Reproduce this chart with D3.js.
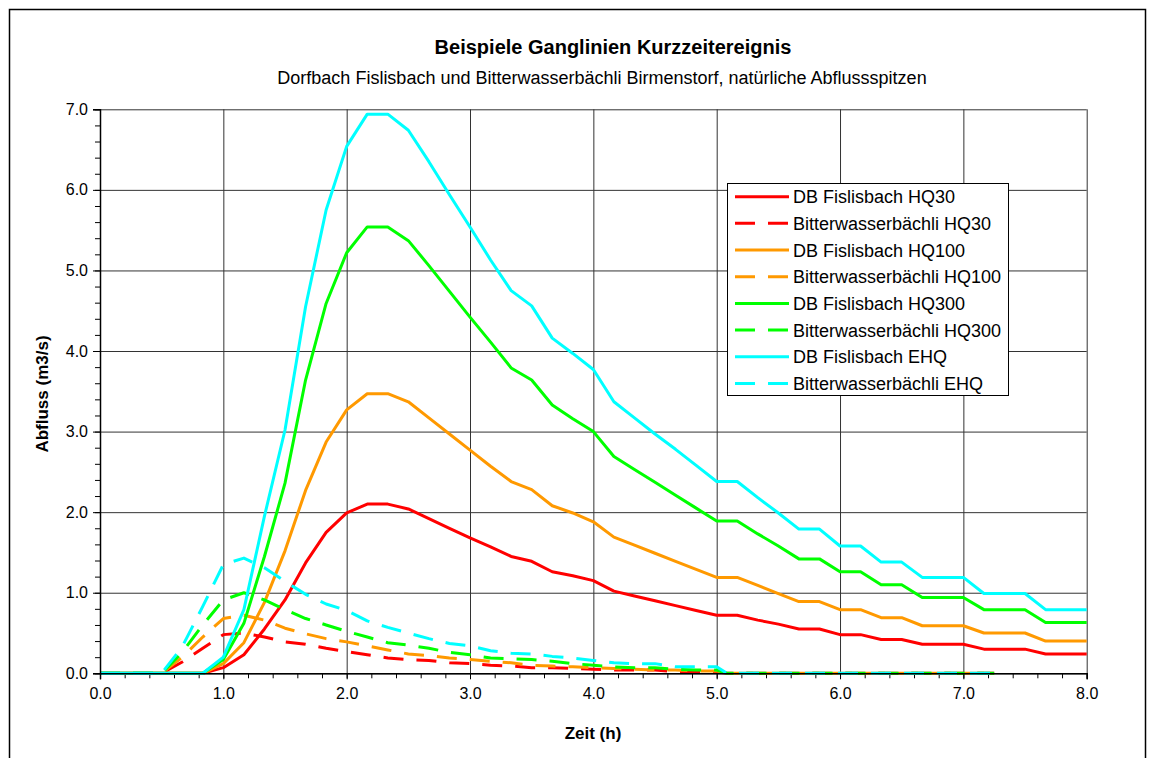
<!DOCTYPE html>
<html>
<head>
<meta charset="utf-8">
<script src="https://cdn.jsdelivr.net/npm/d3@7"></script>
<style>
body{margin:0;background:#fff;}
svg{display:block;font-family:"Liberation Sans",Arial,sans-serif;}
</style>
</head>
<body>
<svg width="1154" height="758"></svg>
<script>
// time in minutes, DB Fislisbach (10 min steps, 0..8 h)
var minutesDB = [0,10,20,30,40,50,60,70,80,90,100,110,120,130,140,150,160,170,180,190,200,
  210,220,230,240,250,260,270,280,290,300,310,320,330,340,350,360,370,380,390,400,
  410,420,430,440,450,460,470,480];

var dbHQ30 = [0,0,0,0,0,0,0.07,0.23,0.55,0.91,1.37,1.75,1.99,2.10,2.10,2.04,1.92,1.80,1.68,1.57,1.45,
  1.39,1.26,1.21,1.15,1.02,0.96,0.90,0.84,0.78,0.72,0.72,0.66,0.61,0.55,0.55,0.48,0.48,0.42,0.42,0.36,
  0.36,0.36,0.30,0.30,0.30,0.24,0.24,0.24];
var dbHQ100 = [0,0,0,0,0,0,0.12,0.38,0.88,1.52,2.27,2.87,3.27,3.47,3.47,3.37,3.17,2.97,2.77,2.57,2.38,
  2.28,2.08,1.99,1.88,1.69,1.59,1.49,1.39,1.29,1.19,1.19,1.09,0.99,0.89,0.89,0.79,0.79,0.69,0.69,0.59,
  0.59,0.59,0.50,0.50,0.50,0.40,0.40,0.40];
var dbHQ300 = [0,0,0,0,0,0,0.17,0.62,1.45,2.36,3.64,4.59,5.22,5.54,5.54,5.37,5.06,4.74,4.42,4.11,3.79,
  3.64,3.33,3.16,3.00,2.69,2.53,2.37,2.21,2.05,1.89,1.89,1.73,1.58,1.42,1.42,1.26,1.26,1.10,1.10,0.94,
  0.94,0.94,0.79,0.79,0.79,0.63,0.63,0.63];
var dbEHQ = [0,0,0,0,0,0,0.20,0.79,1.95,3.02,4.55,5.75,6.54,6.94,6.94,6.74,6.35,5.94,5.54,5.13,4.75,
  4.56,4.16,3.97,3.77,3.37,3.17,2.97,2.78,2.58,2.38,2.38,2.18,1.99,1.79,1.79,1.58,1.58,1.38,1.38,1.19,
  1.19,1.19,0.99,0.99,0.99,0.79,0.79,0.79];

// Bitterwasserbaechli, ends at zero after 5 h
var minutesBW = [0,10,20,30,40,50,60,70,80,90,100,110,120,130,140,150,160,170,180,190,200,
  210,220,230,240,250,260,270,280,290,300,305,435];

var bwHQ30 = [0,0,0,0,0.14,0.31,0.48,0.50,0.45,0.39,0.36,0.31,0.27,0.23,0.19,0.17,0.16,0.13,0.12,0.10,0.09,
  0.07,0.07,0.06,0.05,0.04,0.04,0.04,0.02,0.02,0.02,0,0];
var bwHQ100 = [0,0,0,0,0.20,0.45,0.68,0.72,0.66,0.56,0.49,0.43,0.39,0.34,0.29,0.24,0.22,0.19,0.17,0.15,0.13,
  0.10,0.09,0.08,0.07,0.06,0.05,0.04,0.04,0.03,0.03,0,0];
var bwHQ300 = [0,0,0,0,0.26,0.60,0.91,1.00,0.91,0.79,0.68,0.60,0.52,0.45,0.38,0.35,0.31,0.26,0.23,0.19,0.18,
  0.17,0.15,0.12,0.10,0.08,0.07,0.07,0.05,0.04,0.04,0,0];
var bwEHQ = [0,0,0,0,0.33,0.83,1.35,1.43,1.31,1.14,0.98,0.86,0.78,0.65,0.57,0.50,0.43,0.37,0.34,0.28,0.25,
  0.24,0.21,0.19,0.16,0.13,0.12,0.12,0.08,0.08,0.08,0,0];

var seriesNames = ["DB Fislisbach HQ30","Bitterwasserbächli HQ30","DB Fislisbach HQ100","Bitterwasserbächli HQ100",
  "DB Fislisbach HQ300","Bitterwasserbächli HQ300","DB Fislisbach EHQ","Bitterwasserbächli EHQ"];
var seriesColors = ["#ff0000","#ff0000","#ff9900","#ff9900","#00ff00","#00ff00","#00ffff","#00ffff"];

var xTicks = [0,1,2,3,4,5,6,7,8];
var yTicks = [0,1,2,3,4,5,6,7];

var series = [
  {t: minutesDB, v: dbHQ30, dash: false},
  {t: minutesBW, v: bwHQ30, dash: true},
  {t: minutesDB, v: dbHQ100, dash: false},
  {t: minutesBW, v: bwHQ100, dash: true},
  {t: minutesDB, v: dbHQ300, dash: false},
  {t: minutesBW, v: bwHQ300, dash: true},
  {t: minutesDB, v: dbEHQ, dash: false},
  {t: minutesBW, v: bwEHQ, dash: true}
];
series.forEach(function(s,i){ s.name = seriesNames[i]; s.color = seriesColors[i]; });

var plotLeft = 100, plotRight = 1086.7, plotTop = 109.3, plotBottom = 673.3;

var svg = d3.select("svg");

// outer frame
svg.append("rect")
  .attr("x", 9.5).attr("y", 9.5)
  .attr("width", 1136).attr("height", 800)
  .attr("fill", "none").attr("stroke", "#000").attr("stroke-width", 1.5);

var x = d3.scaleLinear().domain([0,8]).range([plotLeft,plotRight]);
var y = d3.scaleLinear().domain([0,7]).range([plotBottom,plotTop]);

// grid
svg.append("g")
  .attr("transform", "translate(0," + plotBottom + ")")
  .call(d3.axisBottom(x).tickValues(xTicks).tickSize(-(plotBottom-plotTop)).tickFormat(""))
  .call(function(g){ g.select(".domain").remove(); })
  .selectAll("line").attr("stroke", "#333");
svg.append("g")
  .attr("transform", "translate(" + plotLeft + ",0)")
  .call(d3.axisLeft(y).tickValues(yTicks).tickSize(-(plotRight-plotLeft)).tickFormat(""))
  .call(function(g){ g.select(".domain").remove(); })
  .selectAll("line").attr("stroke", "#333");

// minor ticks
svg.append("g")
  .attr("transform", "translate(0," + plotBottom + ")")
  .call(d3.axisBottom(x).tickValues(d3.range(0, 8.01, 0.2)).tickSize(5).tickFormat(""))
  .call(function(g){ g.select(".domain").remove(); })
  .selectAll("line").attr("stroke", "#000");
svg.append("g")
  .attr("transform", "translate(" + plotLeft + ",0)")
  .call(d3.axisLeft(y).tickValues(d3.range(0, 7.01, 0.2)).tickSize(5).tickFormat(""))
  .call(function(g){ g.select(".domain").remove(); })
  .selectAll("line").attr("stroke", "#000");

// series lines
var line = d3.line()
  .x(function(d){ return x(d[0]/60); })
  .y(function(d){ return y(d[1]); });

svg.append("g").selectAll("path")
  .data(series)
  .enter()
  .append("path")
  .attr("d", function(s){ return line(s.t.map(function(m,i){ return [m, s.v[i]]; })); })
  .attr("fill", "none")
  .attr("stroke", function(s){ return s.color; })
  .attr("stroke-width", 3)
  .attr("stroke-linejoin", "round")
  .attr("stroke-dasharray", function(s){ return s.dash ? "20,13" : null; });

// axes with labels
var xAxis = svg.append("g")
  .attr("transform", "translate(0," + plotBottom + ")")
  .call(d3.axisBottom(x).tickValues(xTicks).tickSize(6).tickPadding(8).tickFormat(d3.format(".1f")));
var yAxis = svg.append("g")
  .attr("transform", "translate(" + plotLeft + ",0)")
  .call(d3.axisLeft(y).tickValues(yTicks).tickSize(7).tickPadding(5).tickFormat(d3.format(".1f")));
[xAxis, yAxis].forEach(function(a){
  a.selectAll("text").attr("font-size", 16).attr("fill", "#000").attr("font-family", "Liberation Sans, Arial, sans-serif");
  a.selectAll("line").attr("stroke", "#000");
  a.select(".domain").attr("stroke", "#000").attr("stroke-width", 1.5);
});

// titles
svg.append("text")
  .attr("x", 613).attr("y", 54)
  .attr("text-anchor", "middle")
  .attr("font-size", 20).attr("font-weight", "bold")
  .text("Beispiele Ganglinien Kurzzeitereignis");
svg.append("text")
  .attr("x", 602).attr("y", 84)
  .attr("text-anchor", "middle")
  .attr("font-size", 18)
  .text("Dorfbach Fislisbach und Bitterwasserbächli Birmenstorf, natürliche Abflussspitzen");
svg.append("text")
  .attr("x", 593).attr("y", 739)
  .attr("text-anchor", "middle")
  .attr("font-size", 17).attr("font-weight", "bold")
  .text("Zeit (h)");
svg.append("text")
  .attr("transform", "translate(48,394) rotate(-90)")
  .attr("text-anchor", "middle")
  .attr("font-size", 17).attr("font-weight", "bold")
  .text("Abfluss (m3/s)");

// legend
var legend = svg.append("g");
legend.append("rect")
  .attr("x", 727.5).attr("y", 183.5)
  .attr("width", 281).attr("height", 212)
  .attr("fill", "#fff").attr("stroke", "#000").attr("stroke-width", 1);

var items = legend.selectAll("g.item")
  .data(series)
  .enter()
  .append("g")
  .attr("class", "item")
  .attr("transform", function(d,i){ return "translate(0," + (196.7 + i*26.67) + ")"; });
items.append("line")
  .attr("x1", 735).attr("x2", 789)
  .attr("stroke", function(d){ return d.color; })
  .attr("stroke-width", 3)
  .attr("stroke-dasharray", function(d){ return d.dash ? "20,13" : null; });
items.append("text")
  .attr("x", 793).attr("y", 6.5)
  .attr("font-size", 18)
  .text(function(d){ return d.name; });
</script>
</body>
</html>
